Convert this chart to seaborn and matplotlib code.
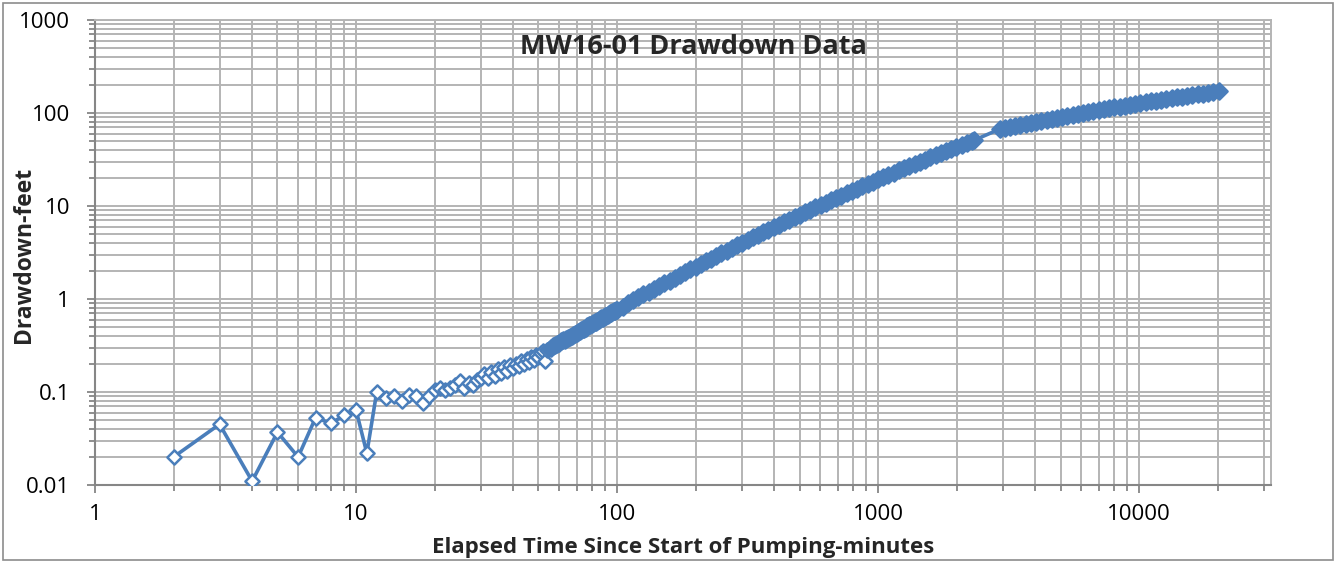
import pandas as pd
import matplotlib
matplotlib.use("Agg")
import matplotlib.pyplot as plt
import seaborn as sns
from matplotlib.ticker import FuncFormatter, NullFormatter
from matplotlib.patches import Rectangle

## MW16-01 drawdown vs elapsed time (log-log)

# first minutes, noisy readings (open diamonds)
early_min = [2, 3, 4, 5, 6, 7, 8, 9, 10, 11,
             12, 13, 14, 15, 16, 17, 18, 19, 20,
             21, 22, 23, 24, 25, 26, 27, 28, 29, 30,
             31, 32, 33, 34, 35, 36, 37, 38, 39, 40,
             41, 42, 43, 44, 45, 46, 47, 48, 49, 50,
             51, 52, 53, 54, 55]
early_ft = [0.020, 0.045, 0.011, 0.037, 0.020, 0.053, 0.046, 0.056, 0.064, 0.022,
            0.100, 0.086, 0.090, 0.080, 0.092, 0.090, 0.077, 0.090, 0.105,
            0.110, 0.105, 0.110, 0.120, 0.130, 0.110, 0.125, 0.120, 0.135, 0.140,
            0.155, 0.140, 0.165, 0.150, 0.175, 0.160, 0.185, 0.170, 0.195, 0.180,
            0.200, 0.190, 0.215, 0.200, 0.225, 0.210, 0.240, 0.220, 0.250, 0.235,
            0.260, 0.275, 0.215, 0.285, 0.290]

# one-minute readings 56-100
mid_min = [56, 57, 58, 59, 60, 61, 62, 63, 64, 65, 66, 67, 68, 69, 70,
           71, 72, 73, 74, 75, 76, 77, 78, 79, 80, 81, 82, 83, 84, 85,
           86, 87, 88, 89, 90, 91, 92, 93, 94, 95, 96, 97, 98, 99, 100]
mid_ft = [0.30, 0.31, 0.32, 0.33, 0.34, 0.35, 0.36, 0.36, 0.37, 0.38,
          0.39, 0.40, 0.41, 0.42, 0.43, 0.44, 0.45, 0.46, 0.47, 0.48,
          0.49, 0.51, 0.52, 0.53, 0.54, 0.55, 0.56, 0.57, 0.58, 0.59,
          0.61, 0.62, 0.63, 0.64, 0.65, 0.66, 0.68, 0.69, 0.70, 0.71,
          0.72, 0.74, 0.75, 0.76, 0.77]

# dense part up to the data gap
steady_min = [105, 110, 115, 120, 126, 132, 138, 145, 151, 159, 166, 174, 182, 191,
              200, 209, 219, 229, 240, 251, 263, 275, 288, 302, 316, 331, 347, 363,
              380, 398, 417, 437, 457, 479, 501, 525, 550, 575, 603, 631, 661, 692,
              724, 759, 794, 832, 871, 912, 955, 1000, 1047, 1096, 1148, 1202, 1259,
              1318, 1380, 1445, 1514, 1585, 1660, 1738, 1820, 1905, 1995, 2089, 2188,
              2291, 2340]
steady_ft = [0.83, 0.90, 0.97, 1.04, 1.12, 1.20, 1.29, 1.38, 1.48, 1.58, 1.70, 1.82,
             1.95, 2.08, 2.23, 2.38, 2.55, 2.72, 2.91, 3.11, 3.32, 3.55, 3.78, 4.04,
             4.31, 4.59, 4.89, 5.21, 5.55, 5.91, 6.29, 6.69, 7.12, 7.57, 8.05, 8.55,
             9.08, 9.65, 10.24, 10.86, 11.52, 12.22, 12.96, 13.73, 14.55, 15.41,
             16.31, 17.27, 18.27, 19.32, 20.43, 21.59, 22.81, 24.10, 25.44, 26.86,
             28.35, 29.90, 31.52, 33.23, 35.02, 36.90, 38.86, 40.91, 43.05, 45.30,
             47.64, 50.08, 51.2]

# after the gap
late_min = [2920, 3060, 3200, 3350, 3510, 3680, 3850, 4030, 4220, 4420, 4630, 4840,
            5070, 5310, 5560, 5820, 6100, 6380, 6680, 7000, 7330, 7670, 8030, 8410,
            8810, 9220, 9650, 10110, 10580, 11080, 11600, 12150, 12720, 13320, 13950,
            14600, 15290, 16010, 16770, 17550, 18380, 19250, 20150]
late_ft = [67.0, 68.8, 70.7, 72.6, 74.5, 76.4, 78.4, 80.4, 82.5, 84.6, 86.7, 88.8,
           91.0, 93.3, 95.5, 97.8, 100.1, 102.5, 104.9, 107.3, 109.7, 112.2, 114.7,
           117.3, 119.8, 122.4, 125.0, 127.7, 130.4, 133.1, 135.8, 138.6, 141.4,
           144.2, 147.0, 149.9, 152.8, 155.7, 158.6, 161.5, 164.4, 167.4, 170.4]

x_ticks = [1, 10, 100, 1000, 10000]
y_ticks = [0.01, 0.1, 1, 10, 100, 1000]

df_open = pd.DataFrame({"time": early_min, "drawdown": early_ft})
df_dense = pd.DataFrame({"time": mid_min + steady_min + late_min,
                         "drawdown": mid_ft + steady_ft + late_ft})
df = pd.concat([df_open, df_dense], ignore_index=True)

sns.set_theme(style="white")
plt.rcParams['font.family'] = ['Open Sans', 'DejaVu Sans']

blue = "#4A7EBB"
grid_c = "#b4b4b4"
axis_c = "#868686"

fig = plt.figure(figsize=(13.36, 5.62), dpi=100)
ax = fig.add_axes([95 / 1336, 1 - 485 / 562, (1271 - 95) / 1336, (485 - 20) / 562])

# line first, markers on top
sns.lineplot(data=df, x="time", y="drawdown", ax=ax, color=blue, linewidth=2.6,
             estimator=None, zorder=2)
sns.scatterplot(data=df_open, x="time", y="drawdown", ax=ax, marker="D", s=52,
                color="white", edgecolor=blue, linewidth=1.8, zorder=3)
sns.scatterplot(data=df_dense, x="time", y="drawdown", ax=ax, marker="D", s=68,
                color=blue, edgecolor=blue, linewidth=1.8, zorder=3)

ax.set_xscale("log")
ax.set_yscale("log")
ax.set_xlim(1, 32000)
ax.set_ylim(0.01, 1000)
ax.set_xticks(x_ticks)
ax.set_yticks(y_ticks)
fmt = FuncFormatter(lambda v, p: f"{v:g}")
ax.xaxis.set_major_formatter(fmt)
ax.yaxis.set_major_formatter(fmt)
ax.xaxis.set_minor_formatter(NullFormatter())
ax.yaxis.set_minor_formatter(NullFormatter())

ax.grid(True, which="both", color=grid_c, linewidth=1.4, zorder=0)
ax.set_axisbelow(True)
for side in ["left", "bottom"]:
    ax.spines[side].set_color(axis_c)
    ax.spines[side].set_linewidth(1.5)
for side in ["top", "right"]:
    ax.spines[side].set_color(grid_c)
    ax.spines[side].set_linewidth(1.4)

ax.tick_params(which="major", direction="out", length=6, width=1.3, color=axis_c,
               labelsize=16, labelcolor="black", bottom=True, left=True)
ax.tick_params(which="minor", direction="out", length=4, width=1.3, color=axis_c,
               bottom=True, left=True)
ax.tick_params(axis="y", which="major", pad=12)
ax.tick_params(axis="x", which="major", pad=8)
ax.set_xlabel("")
ax.set_ylabel("")

fig.text(693 / 1336, 1 - 47 / 562, "MW16-01 Drawdown Data", ha="center", va="center",
         fontsize=19.5, fontweight="bold")
fig.text(683 / 1336, 1 - 547 / 562, "Elapsed Time Since Start of Pumping-minutes",
         ha="center", va="center", fontsize=16, fontweight="bold")
fig.text(24 / 1336, 1 - 255 / 562, "Drawdown-feet", ha="center", va="center",
         rotation=90, fontsize=16.5, fontweight="bold")

# chart border
fig.add_artist(Rectangle((3 / 1336, 2 / 562), 1330 / 1336, 557 / 562,
                         transform=fig.transFigure, fill=False,
                         edgecolor="#8c8c8c", linewidth=1.2))

fig.savefig("out.png", dpi=100)
